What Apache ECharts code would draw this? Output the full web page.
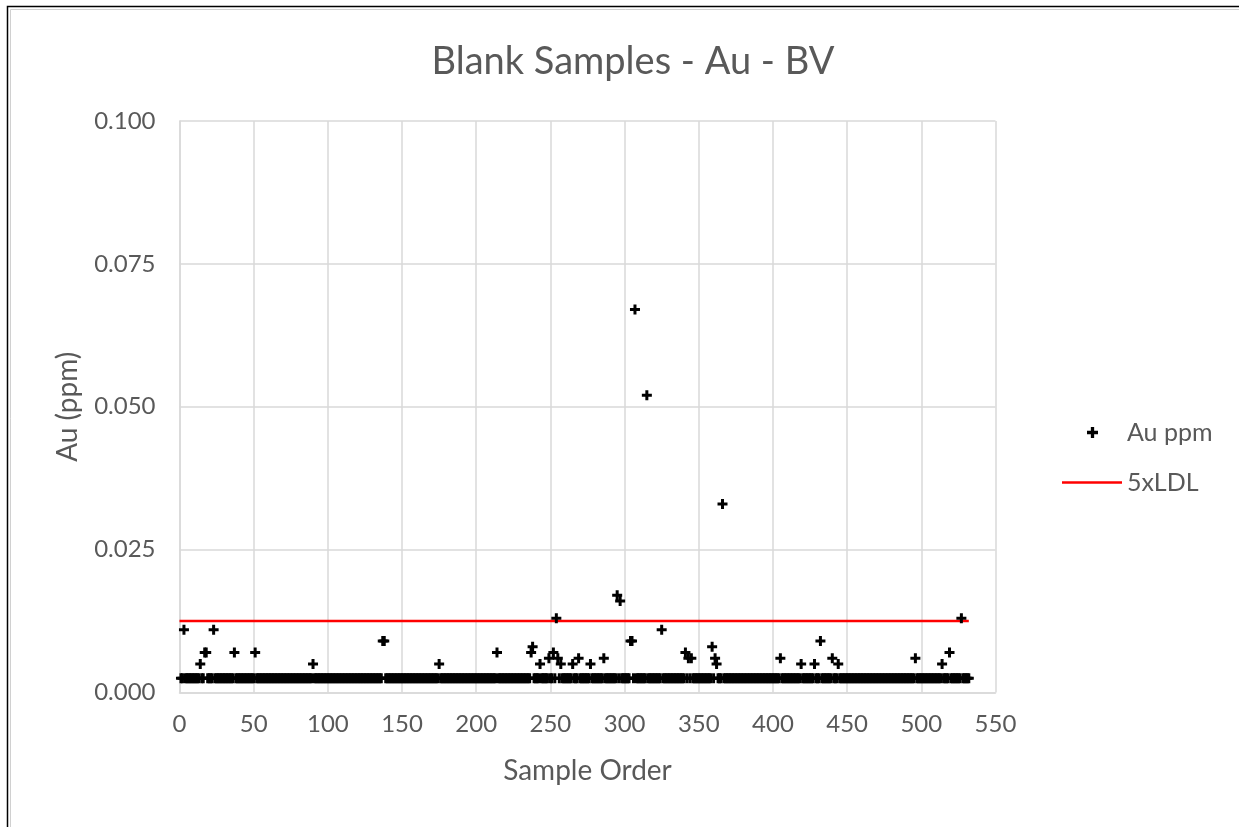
<!DOCTYPE html>
<html>
<head>
<meta charset="utf-8">
<title>Blank Samples - Au - BV</title>
<script src="https://cdn.jsdelivr.net/npm/echarts@6/dist/echarts.min.js"></script>
<style>
  html, body { margin: 0; padding: 0; background: #ffffff; }
  #chart { width: 1239px; height: 827px; }
</style>
</head>
<body>
<div id="chart"></div>
<script>
// Blank samples assayed for gold, in submission order.
const chartTitle = 'Blank Samples - Au - BV';
const sampleCount = 532;            // blanks 1..532
const detectionLimit = 0.0025;      // Au LDL (ppm); non-detects plotted at the limit
const limitLine = 0.0125;           // 5 x LDL

// Blanks that returned gold above the detection limit: sample order, Au (ppm)
const detectedOrder = [
  3, 14, 17, 18, 23, 37, 51, 90, 137, 138, 175, 214, 237, 238, 243, 249,
  252, 254, 255, 257, 265, 269, 277, 286, 295, 297, 304, 305, 307, 315, 325,
  341, 343, 345, 359, 361, 362, 366, 405, 419, 428, 432, 440, 444, 496, 514,
  519, 527
];
const detectedAu = [
  0.011, 0.005, 0.007, 0.007, 0.011, 0.007, 0.007, 0.005, 0.009, 0.009, 0.005, 0.007, 0.007, 0.008, 0.005, 0.006,
  0.007, 0.013, 0.006, 0.005, 0.005, 0.006, 0.005, 0.006, 0.017, 0.016, 0.009, 0.009, 0.067, 0.052, 0.011,
  0.007, 0.006, 0.006, 0.008, 0.006, 0.005, 0.033, 0.006, 0.005, 0.005, 0.009, 0.006, 0.005, 0.006, 0.005,
  0.007, 0.013
];

const xTicks = [0, 50, 100, 150, 200, 250, 300, 350, 400, 450, 500, 550];
const yTicks = [0.000, 0.025, 0.050, 0.075, 0.100];

// One reading per blank: the detected value, or the detection limit
const detectedMap = new Map(detectedOrder.map((o, i) => [o, detectedAu[i]]));
const auPoints = [];
for (let order = 1; order <= sampleCount; order++) {
  auPoints.push([order, detectedMap.has(order) ? detectedMap.get(order) : detectionLimit]);
}
const limitPoints = [[0, limitLine], [sampleCount, limitLine]];

const textGray = '#595959';
const gridGray = '#d9d9d9';
const font = 'Lato, "Open Sans", sans-serif';
const plusSymbol = 'path://M3.5,0h3v3.5h3.5v3h-3.5v3.5h-3v-3.5h-3.5v-3h3.5z';

const chart = echarts.init(document.getElementById('chart'), null, { renderer: 'canvas' });
chart.setOption({
  backgroundColor: '#ffffff',
  animation: false,
  textStyle: { fontFamily: font },
  title: {
    text: chartTitle,
    left: 628,
    top: 38,
    textAlign: 'center',
    textStyle: { color: textGray, fontSize: 38, fontWeight: 'normal', fontFamily: font }
  },
  graphic: [
    { type: 'rect', silent: true, shape: { x: 7.5, y: 6.5, width: 1240, height: 830 },
      style: { fill: 'none', stroke: '#000000', lineWidth: 1.5 } },
    { type: 'rect', silent: true, shape: { x: 10.5, y: 9.5, width: 1240, height: 830 },
      style: { fill: 'none', stroke: '#d0d0d0', lineWidth: 1 } }
  ],
  grid: { left: 179.5, top: 121, width: 816, height: 571.5, containLabel: false },
  legend: [
    {
      data: [{ name: 'Au ppm', icon: plusSymbol }],
      orient: 'vertical',
      left: 1087,
      top: 420,
      padding: 0,
      itemWidth: 11,
      itemHeight: 11,
      textStyle: { color: textGray, fontSize: 25, fontFamily: font, padding: [0, 0, 0, 24] }
    },
    {
      data: [{ name: '5xLDL', icon: 'rect' }],
      orient: 'vertical',
      left: 1062,
      top: 470,
      padding: 0,
      itemWidth: 60,
      itemHeight: 2.5,
      textStyle: { color: textGray, fontSize: 25, fontFamily: font, padding: [0, 0, 0, 0] }
    }
  ],
  xAxis: {
    type: 'value',
    min: xTicks[0],
    max: xTicks[xTicks.length - 1],
    interval: xTicks[1] - xTicks[0],
    name: 'Sample Order',
    nameLocation: 'middle',
    nameGap: 64,
    nameTextStyle: { color: textGray, fontSize: 28, fontFamily: font },
    axisLine: { show: true, lineStyle: { color: gridGray, width: 1.5 } },
    axisTick: { show: false },
    axisLabel: { color: textGray, fontSize: 24, fontFamily: font, margin: 20 },
    splitLine: { show: true, lineStyle: { color: gridGray, width: 1.5 } }
  },
  yAxis: {
    type: 'value',
    min: yTicks[0],
    max: yTicks[yTicks.length - 1],
    interval: yTicks[1] - yTicks[0],
    name: 'Au (ppm)',
    nameLocation: 'middle',
    nameRotate: 90,
    nameGap: 98,
    nameTextStyle: { color: textGray, fontSize: 28, fontFamily: font },
    axisLine: { show: true, lineStyle: { color: gridGray, width: 1.5 } },
    axisTick: { show: false },
    axisLabel: { color: textGray, fontSize: 24, fontFamily: font, margin: 24,
      formatter: v => v.toFixed(3) },
    splitLine: { show: true, lineStyle: { color: gridGray, width: 1.5 } }
  },
  series: [
    {
      name: 'Au ppm',
      type: 'scatter',
      data: auPoints,
      symbol: plusSymbol,
      symbolSize: 10,
      symbolKeepAspect: true,
      itemStyle: { color: '#000000', opacity: 1 },
      z: 3
    },
    {
      name: '5xLDL',
      type: 'line',
      data: limitPoints,
      symbol: 'none',
      lineStyle: { color: '#ff0000', width: 2.5 },
      itemStyle: { color: '#ff0000' },
      z: 2
    }
  ]
});
</script>
</body>
</html>
